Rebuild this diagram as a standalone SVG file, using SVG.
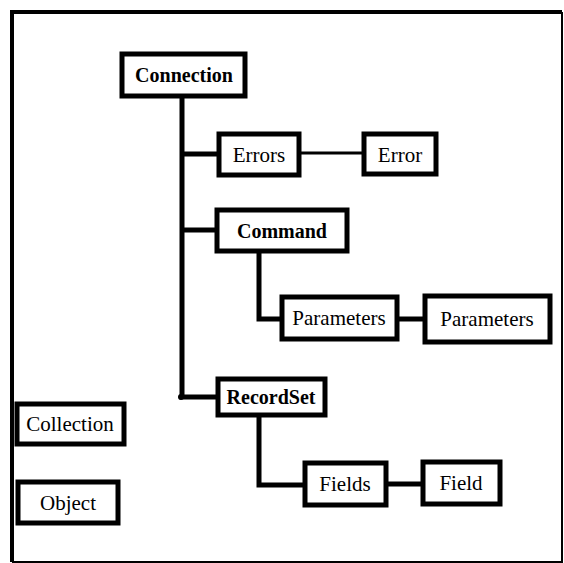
<svg xmlns="http://www.w3.org/2000/svg" width="564" height="563" viewBox="0 0 564 563">
<style>
.box{fill:#fff;stroke:#000;stroke-width:5}
text{font-family:'Liberation Serif','DejaVu Serif',serif;font-size:21px;fill:#000;text-anchor:middle}
.b{font-weight:bold;font-size:20px}
.c{fill:none;stroke:#000;stroke-width:5}
.thin{stroke-width:3}
</style>
<rect x="0" y="0" width="564" height="563" fill="#fff"/>
<path d="M12,562 L12,12 L562,12" fill="none" stroke="#000" stroke-width="4"/>
<path d="M562,12 L562,562 L12,562" fill="none" stroke="#000" stroke-width="2"/>
<g id="connectors">
<path class="c" d="M182,97 V397 H217"/>
<circle cx="181" cy="397" r="3" fill="#000"/>
<path class="c" d="M182,154 H217"/>
<path class="c" d="M182,230 H217"/>
<path class="c thin" d="M300,153 H363"/>
<path class="c" d="M259,250 V319 H281"/>
<path class="c" d="M397,319 H424"/>
<path class="c" d="M259,414 V485 H304"/>
<path class="c" d="M385,484 H422"/>
</g>
<g id="connection"><rect class="box" x="122" y="54" width="123" height="42"/><text class="b" x="184" y="82" font-family="Liberation Serif, serif">Connection</text></g>
<g id="errors"><rect class="box" x="219" y="134" width="80" height="41"/><text x="259" y="162" font-family="Liberation Serif, serif" font-size="23">Errors</text></g>
<g id="error"><rect class="box" x="364" y="134" width="72" height="40"/><text x="400" y="162" font-family="Liberation Serif, serif" font-size="22">Error</text></g>
<g id="command"><rect class="box" x="217" y="210" width="130" height="41"/><text class="b" x="282" y="238" font-family="Liberation Serif, serif" font-size="22">Command</text></g>
<g id="parameters1"><rect class="box" x="282" y="297" width="115" height="42"/><text x="339" y="325" font-family="Liberation Serif, serif">Parameters</text></g>
<g id="parameters2"><rect class="box" x="425" y="296" width="125" height="46"/><text x="487" y="326" font-family="Liberation Serif, serif">Parameters</text></g>
<g id="recordset"><rect class="box" x="218" y="379" width="107" height="36"/><text class="b" x="271" y="404" font-family="Liberation Serif, serif">RecordSet</text></g>
<g id="fields"><rect class="box" x="305" y="463" width="81" height="42"/><text x="345" y="491" font-family="Liberation Serif, serif" font-size="22">Fields</text></g>
<g id="field"><rect class="box" x="423" y="462" width="77" height="42"/><text x="461" y="490" font-family="Liberation Serif, serif" font-size="22">Field</text></g>
<g id="collection"><rect class="box" x="17" y="404" width="107" height="40"/><text x="70" y="431" font-family="Liberation Serif, serif">Collection</text></g>
<g id="object"><rect class="box" x="18" y="482" width="100" height="41"/><text x="68" y="510" font-family="Liberation Serif, serif" font-size="23">Object</text></g>
</svg>
